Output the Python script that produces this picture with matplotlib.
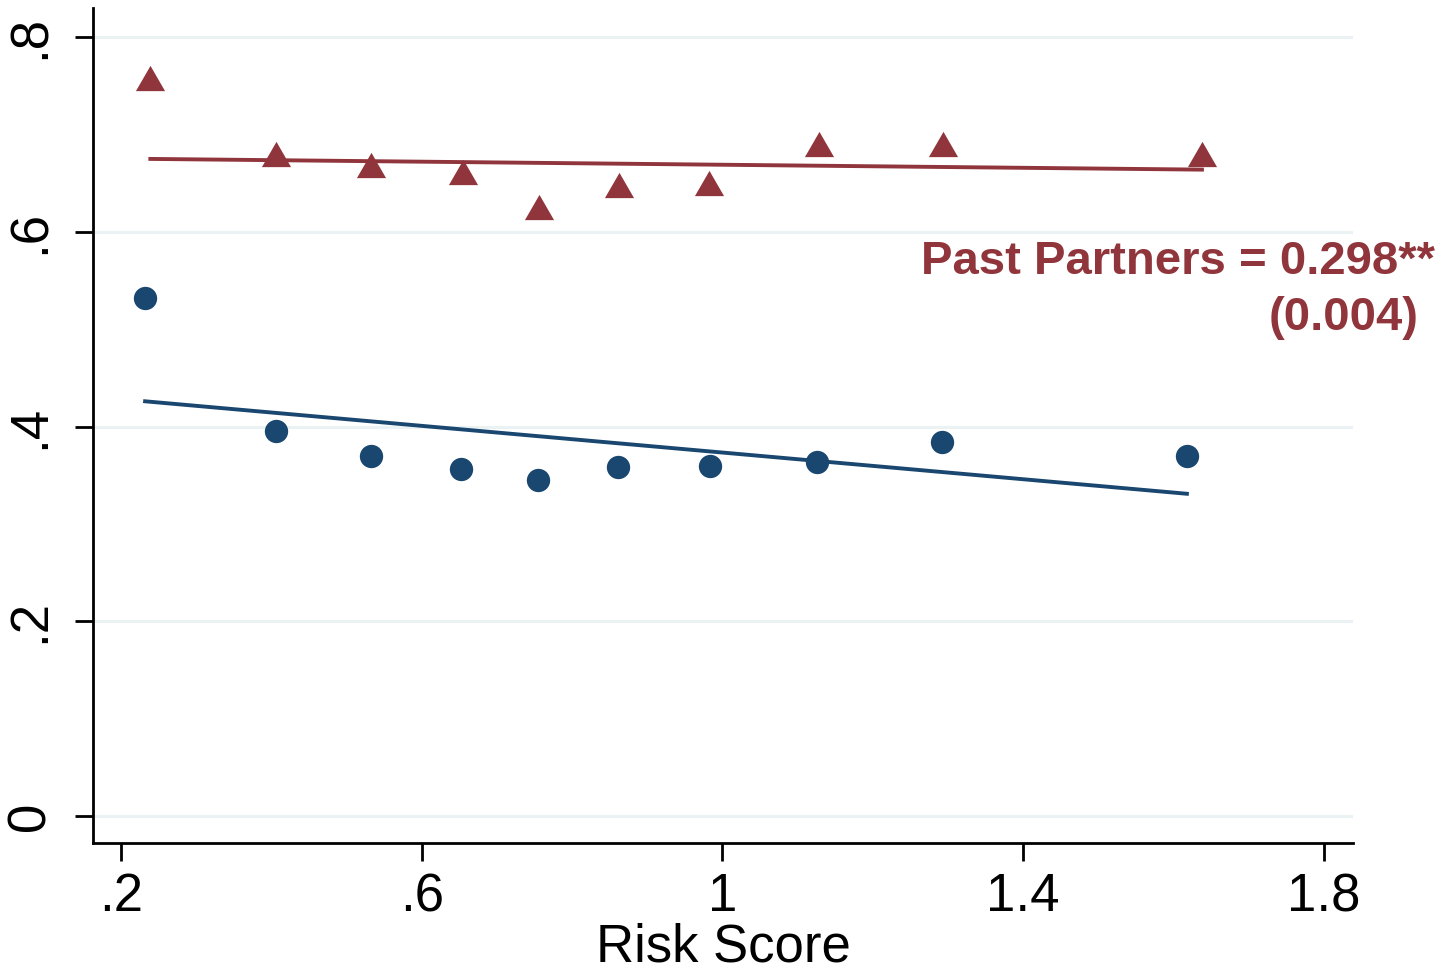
import matplotlib
matplotlib.use("Agg")
import matplotlib.pyplot as plt

# Data (binned scatter)
risk_blue = [0.232, 0.406, 0.533, 0.652, 0.755, 0.861, 0.984, 1.126, 1.292, 1.618]
val_blue = [0.532, 0.395, 0.370, 0.356, 0.345, 0.359, 0.360, 0.364, 0.384, 0.370]
risk_red = [0.239, 0.406, 0.533, 0.655, 0.756, 0.863, 0.982, 1.129, 1.294, 1.638]
val_red = [0.758, 0.680, 0.669, 0.662, 0.626, 0.648, 0.650, 0.690, 0.690, 0.680]

# Fitted lines (endpoints)
fit_blue_x = [0.232, 1.618]
fit_blue_y = [0.426, 0.331]
fit_red_x = [0.239, 1.638]
fit_red_y = [0.675, 0.664]

xticks = [0.2, 0.6, 1.0, 1.4, 1.8]
xticklabels = [".2", ".6", "1", "1.4", "1.8"]
yticks = [0, 0.2, 0.4, 0.6, 0.8]
yticklabels = ["0", ".2", ".4", ".6", ".8"]

annot_line1 = "Past Partners = 0.298**"
annot_line2 = "(0.004)"

BLUE = "#1a476f"
RED = "#90353b"

plt.rcParams['font.family'] = ['Liberation Sans', 'DejaVu Sans']

fig = plt.figure(figsize=(14.44, 9.69), dpi=100)
ax = fig.add_axes([0.0644, 0.130, 0.8726, 0.8617])

for y in yticks:
    ax.axhline(y, color="#eaf2f3", lw=2.2, zorder=0)

tri = [(0, 0.5), (-0.577, -0.5), (0.577, -0.5), (0, 0.5)]

ax.plot(fit_red_x, fit_red_y, color=RED, lw=2.8, zorder=2)
ax.plot(fit_blue_x, fit_blue_y, color=BLUE, lw=2.8, zorder=2)
ax.plot(risk_red, val_red, linestyle="none", marker=tri, ms=21, color=RED, mec="none", zorder=3)
ax.plot(risk_blue, val_blue, linestyle="none", marker="o", ms=16.8, color=BLUE, mec="none", zorder=3)

ax.set_xlim(0.1627, 1.839)
ax.set_ylim(-0.0278, 0.830)

for s in ["top", "right"]:
    ax.spines[s].set_visible(False)
for s in ["left", "bottom"]:
    ax.spines[s].set_linewidth(2.0)
    ax.spines[s].set_color("black")

ax.set_xticks(xticks)
ax.set_xticklabels(xticklabels, fontsize=38)
ax.set_yticks(yticks)
ax.set_yticklabels(yticklabels, fontsize=38, rotation=90, va="center")
ax.tick_params(axis="both", direction="out", length=13, width=2.0, color="black")
ax.tick_params(axis="x", pad=8)
ax.tick_params(axis="y", pad=14)

ax.set_xlabel("Risk Score", fontsize=38, labelpad=0)

ax.text(1.948, 0.557, annot_line1, color=RED, fontsize=34, fontweight="bold",
        ha="right", va="baseline", clip_on=False)
ax.text(1.926, 0.499, annot_line2, color=RED, fontsize=34, fontweight="bold",
        ha="right", va="baseline", clip_on=False)

fig.savefig("out.png", dpi=100)
